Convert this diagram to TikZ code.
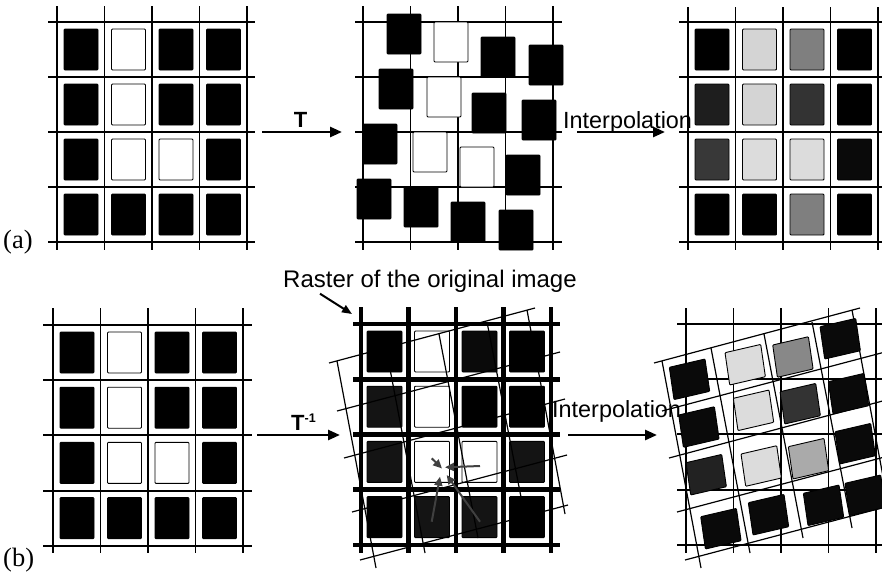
\documentclass[tikz,border=0pt]{standalone}
\usepackage{fontspec}
\setmainfont{Liberation Serif}
\newfontfamily\arialf{Liberation Sans}
\usetikzlibrary{arrows.meta}
\definecolor{lgA}{HTML}{D4D4D4}
\definecolor{lgB}{HTML}{DCDCDC}
\definecolor{mgA}{HTML}{7F7F7F}
\definecolor{mgB}{HTML}{888888}
\definecolor{mgC}{HTML}{AAAAAA}
\definecolor{dgA}{HTML}{1E1E1E}
\definecolor{dgB}{HTML}{333333}
\definecolor{dgC}{HTML}{383838}
\definecolor{dgD}{HTML}{222222}
\definecolor{nbA}{HTML}{0A0A0A}
\definecolor{nbB}{HTML}{141414}
\definecolor{arrowgray}{HTML}{404040}
\begin{document}
\begin{tikzpicture}[x=1pt,y=-1pt,
  thingrid/.style={line width=1.9pt},
  thickgrid/.style={line width=4.6pt},
  tiltline/.style={line width=1.2pt},
  sq/.style={draw=black,rounded corners=0.9pt,line width=0.9pt},
  flowarrow/.style={line width=2.6pt,-{Triangle[length=12pt,width=10pt]}},
  thinarrow/.style={line width=2pt,-{Triangle[length=10pt,width=8pt]}},
  grayarrow/.style={draw=arrowgray,line width=2pt,-{Triangle[length=9pt,width=8pt]}},
  lbl/.style={font=\arialf\fontsize{23.4}{28}\selectfont,inner sep=0pt},
  tlbl/.style={font=\arialf\bfseries\fontsize{22}{24}\selectfont,inner sep=0pt},
  panel/.style={font=\fontsize{26.5}{30}\selectfont,inner sep=0pt}
]
\useasboundingbox[fill=white] (0,0) rectangle (882,576);

% ---------- (a) left: original image ----------
\foreach \i in {0,...,4}{
  \draw[thingrid] ({57+47.5*\i},6) -- ({57+47.5*\i},250);
  \draw[thingrid] (48,{22+55*\i}) -- (255,{22+55*\i});
}
\foreach \c [count=\k from 0] in {black,white,black,black,black,white,black,black,black,white,white,black,black,black,black,black}{
  \pgfmathtruncatemacro{\rowi}{floor(\k/4)}
  \pgfmathtruncatemacro{\coli}{\k-4*\rowi}
  \draw[sq,fill=\c] ({64+47.5*\coli},{29+55*\rowi}) rectangle ++(34,41);
}

% ---------- (a) middle: transformed pixels ----------
\foreach \i in {0,...,4}{
  \draw[thingrid] ({363+47.5*\i},6) -- ({363+47.5*\i},250);
  \draw[thingrid] (355,{22+55*\i}) -- (562,{22+55*\i});
}
\foreach \x/\y/\c in {387/14/black,434/22/white,481/37/black,529/45/black,
  379/69/black,427/77/white,472/93/black,522/100/black,
  363/124/black,413/132/white,460/147/white,506/155/black,
  357/179/black,404/187/black,451/202/black,499/210/black}{
  \draw[sq,fill=\c] (\x,\y) rectangle ++(34,40);
}

% ---------- (a) right: interpolated ----------
\foreach \i in {0,...,4}{
  \draw[thingrid] ({688+47.5*\i},7) -- ({688+47.5*\i},250);
  \draw[thingrid] (679,{22+55*\i}) -- (884,{22+55*\i});
}
\foreach \c [count=\k from 0] in {black,lgA,mgA,black,dgA,lgA,dgB,black,dgC,lgB,lgB,nbA,black,black,mgA,black}{
  \pgfmathtruncatemacro{\rowi}{floor(\k/4)}
  \pgfmathtruncatemacro{\coli}{\k-4*\rowi}
  \draw[sq,fill=\c] ({695+47.5*\coli},{29+55*\rowi}) rectangle ++(34,41);
}

% ---------- (b) left: original image ----------
\foreach \i in {0,...,4}{
  \draw[thingrid] ({53+47.5*\i},308) -- ({53+47.5*\i},553);
  \draw[thingrid] (43,{325+55.2*\i}) -- (252,{325+55.2*\i});
}
\foreach \c [count=\k from 0] in {black,white,black,black,black,white,black,black,black,white,white,black,black,black,black,black}{
  \pgfmathtruncatemacro{\rowi}{floor(\k/4)}
  \pgfmathtruncatemacro{\coli}{\k-4*\rowi}
  \draw[sq,fill=\c] ({60+47.5*\coli},{332+55.2*\rowi}) rectangle ++(34,41);
}

% ---------- (b) middle: raster of original with back-mapped grid ----------
\foreach \i in {0,...,4}{
  \draw[thickgrid] ({361+47.5*\i},307) -- ({361+47.5*\i},553);
  \draw[thickgrid] (353,{324+55.2*\i}) -- (560,{324+55.2*\i});
}
\foreach \c [count=\k from 0] in {black,white,nbA,black,nbB,white,black,black,nbB,white,white,nbB,black,nbB,nbB,black}{
  \pgfmathtruncatemacro{\rowi}{floor(\k/4)}
  \pgfmathtruncatemacro{\coli}{\k-4*\rowi}
  \draw[sq,fill=\c] ({367+47.5*\coli},{331+55.2*\rowi}) rectangle ++(35,41);
}
\begin{scope}[xshift=-325pt]
\foreach \ax/\ay/\bx/\by in {662/361/701/568,711/348/750/553,764/334/803/538,812/322/852/528,852/310/890/514,
  654/363/860/308,662/411/885/352,669/458/890/399,677/512/892/455,685/560/893/505}{
  \draw[tiltline] (\ax,\ay) -- (\bx,\by);
}
\end{scope}
% sample-point arrows
\coordinate (g1s) at (431.7,458.3); \coordinate (g1e) at (442,468.5);
\coordinate (g2s) at (480,466);     \coordinate (g2e) at (445,467.3);
\coordinate (g3s) at (431.7,521.7); \coordinate (g3e) at (440,476.7);
\coordinate (g4s) at (480,521.7);   \coordinate (g4e) at (446.7,475);
\draw[grayarrow] (g1s) -- (g1e);
\draw[grayarrow] (g2s) -- (g2e);
\draw[grayarrow] (g3s) -- (g3e);
\draw[grayarrow] (g4s) -- (g4e);

% ---------- (b) right: result on rotated grid ----------
\foreach \i in {0,...,4}{
  \draw[thingrid] ({686+47.5*\i},308) -- ({686+47.5*\i},553);
  \draw[thingrid] (677,{324+55.2*\i}) -- (884,{324+55.2*\i});
}
\foreach \ax/\ay/\bx/\by in {662/361/701/568,711/348/750/553,764/334/803/538,812/322/852/528,852/310/890/514,
  654/363/860/308,662/411/885/352,669/458/890/399,677/512/892/455,685/560/893/505}{
  \draw[tiltline] (\ax,\ay) -- (\bx,\by);
}
\foreach \x/\y/\c in {669.3/367.3/nbA,725/352.7/lgB,772.7/345/mgB,820/326.7/nbA,
  678.7/415/nbA,733.3/398.3/lgB,780/391.7/dgB,828.3/381.7/nbA,
  686/462.7/dgD,741/454/lgB,788.3/446.7/mgC,835/431.7/nbA,
  700.7/516.7/nbA,748.3/502.7/nbA,803.3/493.3/nbA,845/483.3/nbA}{
  \draw[sq,fill=\c] (\x,\y) -- ++(35.7,-8.3) -- ++(4.7,32.3) -- ++(-35.7,8.3) -- cycle;
}

% ---------- arrows and labels ----------
\coordinate (ta1) at (262,132); \coordinate (ta2) at (342,132);
\draw[flowarrow] (ta1) -- (ta2);
\node[tlbl,anchor=base] (tlab) at (300.5,127) {T};

\coordinate (ia1) at (577,132); \coordinate (ia2) at (665,132);
\node[lbl,anchor=base west] (ilabA) at (563,128) {Interpolation};
\draw[flowarrow] (ia1) -- (ia2);

\coordinate (tb1) at (257,435); \coordinate (tb2) at (340,435);
\draw[flowarrow] (tb1) -- (tb2);
\node[tlbl,anchor=base west] (tinv) at (291,430) {T\raisebox{7.5pt}{\fontsize{12.5}{12}\selectfont -1}};

\coordinate (ib1) at (568,435); \coordinate (ib2) at (657,435);
\node[lbl,anchor=base west] (ilabB) at (552,417) {Interpolation};
\draw[flowarrow] (ib1) -- (ib2);

\node[lbl,font=\arialf\fontsize{24}{28}\selectfont,anchor=base west] (raster) at (283,287) {Raster of the original image};
\coordinate (ra1) at (320,293.7); \coordinate (ra2) at (352,314);
\draw[thinarrow] (ra1) -- (ra2);

\node[panel,anchor=base west] (pa) at (3,248) {(a)};
\node[panel,anchor=base west] (pb) at (3,566) {(b)};
\end{tikzpicture}
\end{document}
